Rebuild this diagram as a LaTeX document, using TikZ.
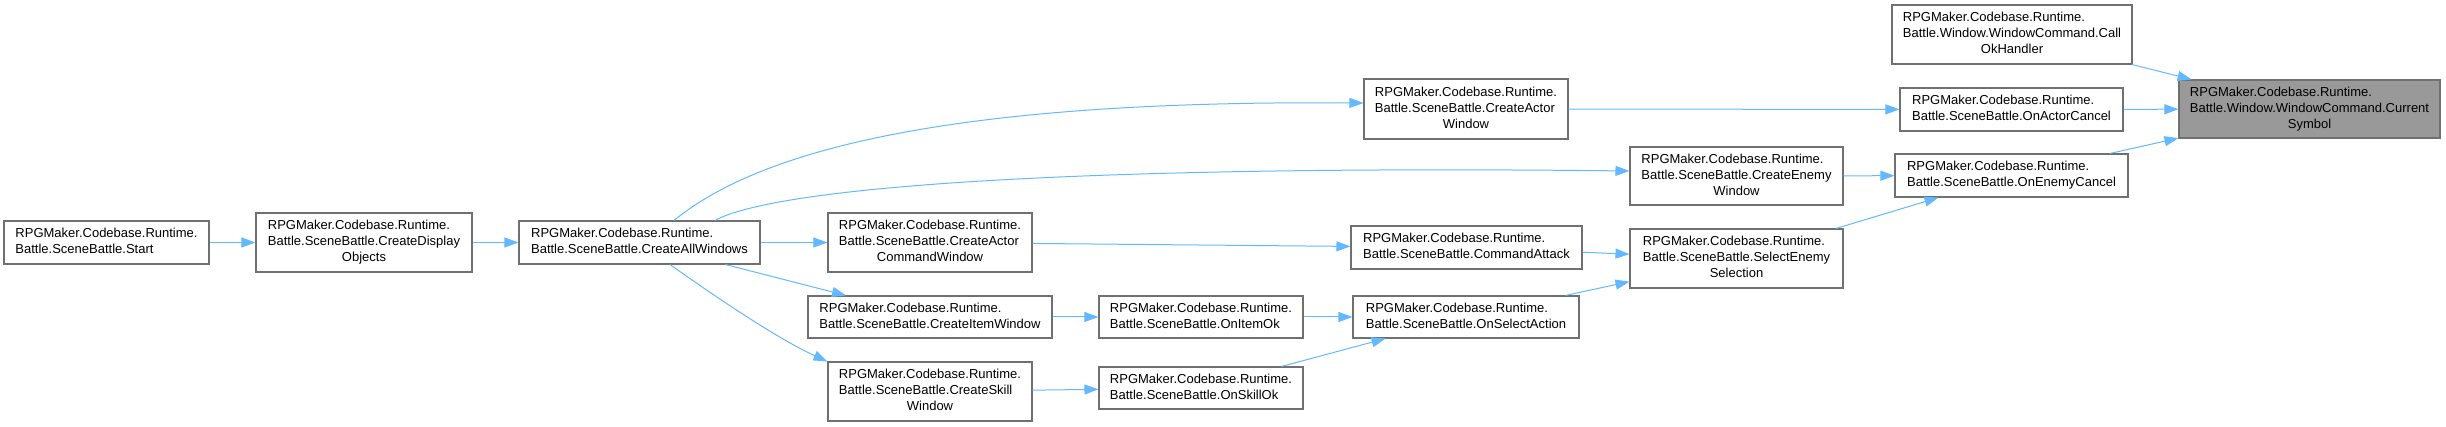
\documentclass[tikz,border=0pt]{standalone}
\usepackage{fontspec}
\setmainfont{Liberation Sans}
\usepackage{tikz}
\usetikzlibrary{arrows.meta}
\definecolor{edgeblue}{RGB}{99,184,255}
\definecolor{boxline}{RGB}{112,112,112}
\definecolor{curfill}{RGB}{153,153,153}
\newcommand{\twolines}[2]{\begin{tabular}{@{}l@{}}#1\\#2\end{tabular}}
\newcommand{\threelines}[3]{\begin{tabular}{@{}l@{}}#1\\#2\\\multicolumn{1}{@{}c@{}}{#3}\end{tabular}}

\begin{document}
\begin{tikzpicture}[x=1pt, y=-1pt,
    fn/.style n args={2}{draw=boxline, line width=1.1pt, fill=white, inner sep=0pt,
      minimum width=#1pt, minimum height=#2pt, font=\fontsize{13}{16}\selectfont},
    call/.style={-{Triangle[length=14pt,width=10pt]}, draw=edgeblue, line width=1pt}]
  \useasboundingbox (0,0) rectangle (2446,427);

  \node[fn={205}{43}] (start) at (106.5,242.5) {\twolines{RPGMaker.Codebase.Runtime.}{Battle.SceneBattle.Start}};
  \node[fn={216}{59}] (disp) at (364,242.5) {\threelines{RPGMaker.Codebase.Runtime.}{Battle.SceneBattle.CreateDisplay}{Objects}};
  \node[fn={241}{43}] (allwin) at (639.5,242.5) {\twolines{RPGMaker.Codebase.Runtime.}{Battle.SceneBattle.CreateAllWindows}};
  \node[fn={204}{59}] (actcmd) at (930,242.5) {\threelines{RPGMaker.Codebase.Runtime.}{Battle.SceneBattle.CreateActor}{CommandWindow}};
  \node[fn={244}{42}] (itemwin) at (930,317) {\twolines{RPGMaker.Codebase.Runtime.}{Battle.SceneBattle.CreateItemWindow}};
  \node[fn={204}{59}] (skillwin) at (930,391.5) {\threelines{RPGMaker.Codebase.Runtime.}{Battle.SceneBattle.CreateSkill}{Window}};
  \node[fn={204}{42}] (itemok) at (1201,317) {\twolines{RPGMaker.Codebase.Runtime.}{Battle.SceneBattle.OnItemOk}};
  \node[fn={204}{42}] (skillok) at (1201,388) {\twolines{RPGMaker.Codebase.Runtime.}{Battle.SceneBattle.OnSkillOk}};
  \node[fn={204}{60}] (actwin) at (1466,109) {\threelines{RPGMaker.Codebase.Runtime.}{Battle.SceneBattle.CreateActor}{Window}};
  \node[fn={231}{43}] (cmdatk) at (1466.5,247.5) {\twolines{RPGMaker.Codebase.Runtime.}{Battle.SceneBattle.CommandAttack}};
  \node[fn={226}{42}] (selact) at (1466,317) {\twolines{RPGMaker.Codebase.Runtime.}{Battle.SceneBattle.OnSelectAction}};
  \node[fn={213}{58}] (enewin) at (1736.5,176) {\threelines{RPGMaker.Codebase.Runtime.}{Battle.SceneBattle.CreateEnemy}{Window}};
  \node[fn={213}{59}] (selene) at (1736.5,258.5) {\threelines{RPGMaker.Codebase.Runtime.}{Battle.SceneBattle.SelectEnemy}{Selection}};
  \node[fn={240}{59}] (callok) at (2012,34.5) {\threelines{RPGMaker.Codebase.Runtime.}{Battle.Window.WindowCommand.Call}{OkHandler}};
  \node[fn={223}{43}] (actcan) at (2011.5,109.5) {\twolines{RPGMaker.Codebase.Runtime.}{Battle.SceneBattle.OnActorCancel}};
  \node[fn={233}{43}] (enecan) at (2011.5,175.5) {\twolines{RPGMaker.Codebase.Runtime.}{Battle.SceneBattle.OnEnemyCancel}};
  \node[fn={261}{58}, fill=curfill] (cursym) at (2309.5,109) {\threelines{RPGMaker.Codebase.Runtime.}{Battle.Window.WindowCommand.Current}{Symbol}};

  \draw[call] (start) -- (disp); \draw[call] (disp) -- (allwin);
  \draw[call] ([xshift=34.5pt]allwin.north) .. controls (760,150) and (950,100) .. ([yshift=6pt]actwin.west);
  \draw[call] ([xshift=75.5pt]allwin.north) .. controls (780,185) and (1100,165) .. ([yshift=5pt]enewin.west);
  \draw[call] (allwin) -- (actcmd); \draw[call] (allwin) -- (itemwin);
  \draw[call] ([xshift=30.5pt]allwin.south) .. controls (720,300) and (780,340) .. (skillwin.north west);
  \draw[call] (actcmd) -- (cmdatk); \draw[call] (itemwin) -- (itemok); \draw[call] (skillwin) -- (skillok);
  \draw[call] (itemok) -- (selact); \draw[call] (skillok) -- (selact);
  \draw[call] (cmdatk) -- (selene); \draw[call] (selact) -- (selene);
  \draw[call] (actwin) -- (actcan); \draw[call] (enewin) -- (enecan); \draw[call] (selene) -- (enecan);
  \draw[call] (callok) -- (cursym); \draw[call] (actcan) -- (cursym); \draw[call] (enecan) -- (cursym);
\end{tikzpicture}
\end{document}
